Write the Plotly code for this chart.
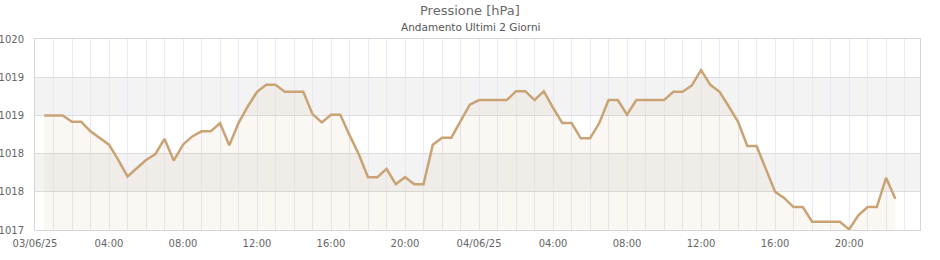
import pandas as pd
import plotly.graph_objects as go

# ---- data ----
start_time = "2025-06-03 00:30"
step = "30min"
pressure = [
    1018.8, 1018.8, 1018.8, 1018.7, 1018.7, 1018.55, 1018.45, 1018.34, 1018.1, 1017.84,
    1017.97, 1018.1, 1018.19, 1018.43, 1018.09, 1018.34,
    1018.47, 1018.55, 1018.55, 1018.68, 1018.33, 1018.68, 1018.94, 1019.17, 1019.28, 1019.28,
    1019.17, 1019.17, 1019.17, 1018.82, 1018.69,
    1018.81, 1018.81, 1018.49, 1018.19, 1017.83, 1017.83, 1017.96, 1017.72, 1017.83, 1017.72,
    1017.72, 1018.34, 1018.45, 1018.45, 1018.71, 1018.97,
    1019.04, 1019.04, 1019.04, 1019.04, 1019.18, 1019.18, 1019.04, 1019.18, 1018.92, 1018.68,
    1018.68, 1018.44, 1018.44, 1018.68, 1019.04, 1019.04,
    1018.81, 1019.04, 1019.04, 1019.04, 1019.04, 1019.17, 1019.17, 1019.27, 1019.51, 1019.28,
    1019.17, 1018.94, 1018.70, 1018.32, 1018.32, 1017.96,
    1017.6, 1017.5, 1017.36, 1017.36, 1017.13, 1017.13, 1017.13, 1017.13, 1017.01, 1017.23,
    1017.36, 1017.36, 1017.82, 1017.49,
]
times = pd.date_range(start_time, periods=len(pressure), freq=step)

y_ticks = [1017.0, 1017.6, 1018.2, 1018.8, 1019.4, 1020.0]
y_tick_labels = ["1017", "1018", "1018", "1019", "1019", "1020"]
x_label_texts = ["03/06/25", "04:00", "08:00", "12:00", "16:00", "20:00",
                 "04/06/25", "04:00", "08:00", "12:00", "16:00", "20:00"]
x_start = pd.Timestamp("2025-06-03 00:00")
x_end = pd.Timestamp("2025-06-04 23:50")

title_text = "Pressione [hPa]"
subtitle_text = "Andamento Ultimi 2 Giorni"

# hourly ticks (grid) with labels every 4 hours
hour_ticks = pd.date_range(x_start, periods=48, freq="1h")
hour_texts = []
for k in range(len(hour_ticks)):
    hour_texts.append(x_label_texts[k // 4] if k % 4 == 0 else "")

LINE = "rgb(201,163,116)"
FILL = "rgba(200,160,120,0.08)"
BAND = "#f3f3f3"
FONT = "DejaVu Sans"

fig = go.Figure()
fig.add_trace(go.Scatter(
    x=times, y=pressure, mode="lines",
    line=dict(color=LINE, width=2.5),
    fill="tozeroy", fillcolor=FILL,
    hoverinfo="skip", showlegend=False,
))

# alternating bands
band_pairs = [(y_ticks[1], y_ticks[2]), (y_ticks[3], y_ticks[4])]
shapes = []
for y0, y1 in band_pairs:
    shapes.append(dict(type="rect", xref="paper", yref="y", x0=0, x1=1, y0=y0, y1=y1,
                       fillcolor=BAND, line=dict(width=0), layer="below"))

fig.update_layout(
    width=940, height=260,
    margin=dict(l=35, r=20, t=39, b=30),
    paper_bgcolor="white", plot_bgcolor="white",
    font=dict(family=FONT, size=10, color="#666666"),
    shapes=shapes,
    annotations=[
        dict(text=title_text, xref="paper", yref="paper", x=(470 - 35) / 885, y=1 + (39 - 10.5) / 191,
             xanchor="center", yanchor="middle", showarrow=False,
             font=dict(family=FONT, size=13, color="#6a6a6a")),
        dict(text=subtitle_text, xref="paper", yref="paper", x=(470 - 35) / 885, y=1 + (39 - 26.5) / 191,
             xanchor="center", yanchor="middle", showarrow=False,
             font=dict(family=FONT, size=10.5, color="#555555")),
    ],
)

fig.update_xaxes(
    type="date", range=[x_start, x_end], automargin=False,
    tickmode="array", tickvals=hour_ticks, ticktext=hour_texts,
    showgrid=True, gridcolor="#e8e8f8", gridwidth=1,
    showline=True, linecolor="#d6d6d6", linewidth=1, mirror=True,
    ticks="", ticklabelstandoff=4, zeroline=False,
    tickfont=dict(family=FONT, size=10, color="#666666"),
)
fig.update_yaxes(
    range=[1017, 1020], automargin=False,
    tickmode="array", tickvals=y_ticks, ticktext=y_tick_labels,
    showgrid=True, gridcolor="#dddddd", gridwidth=1,
    showline=True, linecolor="#d6d6d6", linewidth=1, mirror=True,
    ticks="", ticklabelstandoff=8, zeroline=False,
    tickfont=dict(family=FONT, size=10, color="#666666"),
)

fig.write_html("out.html")
